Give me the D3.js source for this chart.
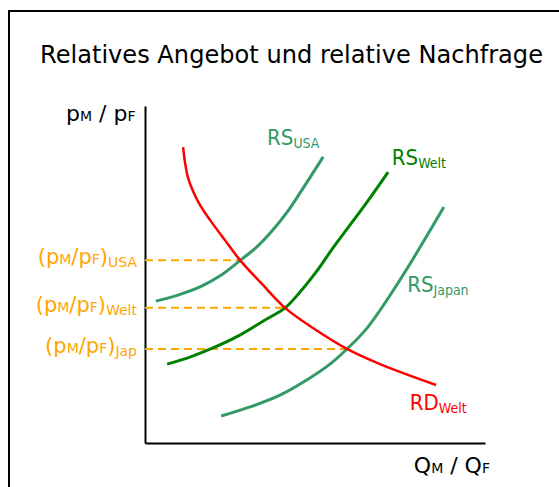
<!DOCTYPE html>
<html>
<head>
<meta charset="utf-8">
<script src="https://cdn.jsdelivr.net/npm/d3@7"></script>
<style>
    body { margin: 0; background: #fff; }
    svg text { font-family: "DejaVu Sans", sans-serif; }
    svg text.curveLabel { font-family: "DejaVu Sans Condensed", "DejaVu Sans", sans-serif; }
</style>
</head>
<body>
<div id="chart"></div>
<script>
// curve points as [Q_M/Q_F, p_M/p_F] (0..100 units)
const rsUSA   = [[3.2,42.1],[9.7,43.9],[16.2,46.3],[22.1,49.6],[28.0,54.2],[32.9,58.2],[37.6,63.2],[41.8,68.5],[45.6,74.2],[52.4,84.9]];
const rsWelt  = [[6.5,23.4],[13.2,25.5],[20.0,28.2],[27.9,32.0],[35.3,36.5],[41.2,40.1],[45.6,44.8],[50.3,50.7],[55.3,57.9],[65.3,71.5],[71.5,80.4]];
const rsJapan = [[22.4,8.0],[30.9,10.7],[39.7,14.2],[48.5,19.3],[54.4,23.4],[59.4,27.9],[65.3,34.1],[75.0,48.4],[87.9,70.0]];
const rdWelt  = [[11.2,87.8],[11.8,83.1],[12.6,78.9],[14.1,74.8],[16.2,70.6],[19.1,66.2],[23.5,60.2],[28.0,54.2],[34.4,47.2],[41.2,40.1],[49.4,34.1],[59.4,27.9],[69.1,23.4],[85.6,17.2]];

// equilibrium prices (dashed lines)
const eqNames = ["USA", "Welt", "Jap"];
const eqQ = [28.0, 41.2, 59.4];
const eqP = [54.2, 40.1, 27.9];

const curveMain = ["RS", "RS", "RS", "RD"];
const curveSub = ["USA", "Welt", "Japan", "Welt"];

const title = "Relatives Angebot und relative Nachfrage";

class RelativeVis {

    constructor(parentElement) {
        this.parentElement = parentElement;
        this.colors = ['#339966', '#008000', '#339966', '#ff0000'];
        this.orange = '#ffa500';
        this.initVis();
    }

    initVis() {
        let vis = this;
        vis.width = 559;
        vis.height = 487;

        vis.svg = d3.select("#" + vis.parentElement).append("svg")
            .attr("width", vis.width)
            .attr("height", vis.height);

        // slide frame
        vis.svg.append("rect")
            .attr("x", 9).attr("y", 11)
            .attr("width", 600).attr("height", 520)
            .attr("fill", "none").attr("stroke", "#000").attr("stroke-width", 2);

        vis.svg.append("text").text(title)
            .attr("x", 40).attr("y", 63)
            .attr("font-size", 24.1).attr("fill", "#000");

        // scales
        vis.x = d3.scaleLinear().domain([0, 100]).range([145, 485]);
        vis.y = d3.scaleLinear().domain([0, 100]).range([443, 106]);

        vis.xAxis = d3.axisBottom(vis.x).tickValues([]).tickSizeOuter(0);
        vis.yAxis = d3.axisLeft(vis.y).tickValues([]).tickSizeOuter(0);

        vis.svg.append("g").attr("class", "x-axis")
            .attr("transform", "translate(0," + vis.y(0) + ")")
            .call(vis.xAxis);
        vis.svg.append("g").attr("class", "y-axis")
            .attr("transform", "translate(" + vis.x(0) + ",0)")
            .call(vis.yAxis);
        vis.svg.selectAll(".x-axis path, .y-axis path")
            .attr("stroke", "#000").attr("stroke-width", 2);

        // axis labels
        let yl = vis.svg.append("text").attr("x", 66).attr("y", 121).attr("font-size", 22);
        yl.append("tspan").text("p");
        yl.append("tspan").text("M").attr("font-size", 14);
        yl.append("tspan").text(" / p");
        yl.append("tspan").text("F").attr("font-size", 14);

        let xl = vis.svg.append("text").attr("x", 490).attr("y", 473)
            .attr("text-anchor", "end").attr("font-size", 22);
        xl.append("tspan").text("Q");
        xl.append("tspan").text("M").attr("font-size", 14);
        xl.append("tspan").text(" / Q");
        xl.append("tspan").text("F").attr("font-size", 14);

        vis.wrangleData();
    }

    wrangleData() {
        let vis = this;
        vis.curves = [rsUSA, rsWelt, rsJapan, rdWelt];
        vis.eq = eqNames.map((n, i) => ({name: n, q: eqQ[i], p: eqP[i]}));
        vis.updateVis();
    }

    updateVis() {
        let vis = this;

        // dashed equilibrium lines
        vis.svg.selectAll(".eqLine").data(vis.eq).enter().append("line")
            .attr("class", "eqLine")
            .attr("x1", vis.x(0)).attr("x2", d => vis.x(d.q))
            .attr("y1", d => vis.y(d.p)).attr("y2", d => vis.y(d.p))
            .attr("stroke", vis.orange).attr("stroke-width", 2)
            .attr("stroke-dasharray", "8,5");

        let eqLabel = vis.svg.selectAll(".eqLabel").data(vis.eq).enter().append("text")
            .attr("class", "eqLabel")
            .attr("x", 137).attr("y", d => vis.y(d.p) + 4)
            .attr("text-anchor", "end")
            .attr("fill", vis.orange).attr("font-size", 21);
        eqLabel.append("tspan").text("(p");
        eqLabel.append("tspan").text("M").attr("font-size", 14);
        eqLabel.append("tspan").text("/p");
        eqLabel.append("tspan").text("F").attr("font-size", 14);
        eqLabel.append("tspan").text(")");
        eqLabel.append("tspan").text(d => d.name).attr("font-size", 14).attr("dy", 3);

        let line = d3.line()
            .x(d => vis.x(d[0]))
            .y(d => vis.y(d[1]))
            .curve(d3.curveCatmullRom.alpha(0.5));

        vis.svg.selectAll(".curve").data(vis.curves).enter().append("path")
            .attr("class", "curve")
            .attr("d", line)
            .attr("fill", "none")
            .attr("stroke", (d, i) => vis.colors[i])
            .attr("stroke-width", (d, i) => i === 3 ? 2.5 : 3);

        // curve labels
        let labelPos = [[35.9, 88.4], [72.6, 82.5], [77.1, 44.8], [77.9, 9.8]];
        let lbl = vis.svg.selectAll(".curveLabel").data(curveMain).enter().append("text")
            .attr("class", "curveLabel")
            .attr("x", (d, i) => vis.x(labelPos[i][0]))
            .attr("y", (d, i) => vis.y(labelPos[i][1]))
            .attr("fill", (d, i) => vis.colors[i])
            .attr("font-size", 22);
        lbl.append("tspan").text(d => d);
        lbl.append("tspan").text((d, i) => curveSub[i]).attr("font-size", 14).attr("dy", 3);
    }
}

new RelativeVis("chart");
</script>
</body>
</html>
